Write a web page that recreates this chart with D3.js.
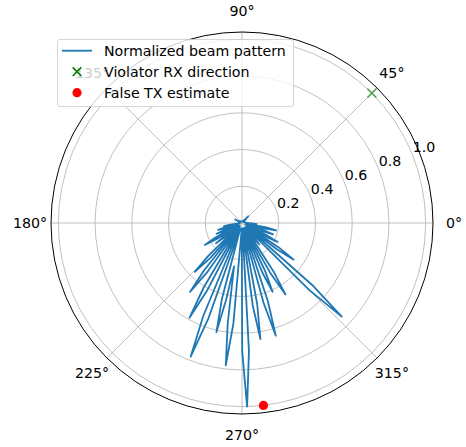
<!DOCTYPE html>
<html>
<head>
<meta charset="utf-8">
<script src="https://cdn.jsdelivr.net/npm/d3@7"></script>
<style>
  html, body { margin: 0; padding: 0; background: #ffffff; }
  svg { display: block; font-family: "DejaVu Sans", sans-serif; }
</style>
</head>
<body>
<svg id="chart" width="466" height="447"></svg>
<script>
// ---------- data ----------
const radialTicks = [0.2, 0.4, 0.6, 0.8, 1.0];
const radialTickLabels = ["0.2", "0.4", "0.6", "0.8", "1.0"];
const angleTicks = [0, 45, 90, 135, 180, 225, 270, 315];
const angleTickLabels = ["0°", "45°", "90°", "135°", "180°", "225°", "270°", "315°"];

// Normalized beam pattern vertices (angle in degrees, normalized magnitude)
const beamTheta = [
  0, 25, 45.5, 47, 48.5, 70, 120, 151.5, 153, 154.5, 175, 186,
  188, 190, 192, 193.2,
  194.5, 196, 197.5, 199.5,
  201.4, 203, 204.6, 206.5,
  208.8, 210.5, 212.2, 214,
  216.5, 218, 219.5, 222,
  224.3, 226, 227.7, 229.5,
  231.3, 233, 234.7, 237,
  239.3, 241, 242.7, 245,
  247.4, 249, 250.6, 253,
  255.2, 256.8, 258.3, 259.6,
  261.9, 263.5, 265.1, 267.5,
  270.1, 271.6, 273.1, 275.5,
  277.4, 279, 280.6, 283,
  285.1, 286.7, 288.3, 290.5,
  292.3, 294, 295.7, 297.5,
  299.6, 301.3, 303, 305,
  307.5, 309, 310.5, 313,
  315.1, 316.8, 318.5, 320.5,
  323, 324.7, 326.4, 328.5,
  330.4, 332, 333.6, 336,
  338.4, 340, 341.6, 344,
  346.4, 348, 349.6, 352,
  354.8, 356, 357.2, 360
];
const beamR = [
  0.03, 0.01, 0.03, 0.05, 0.03, 0.01, 0.01, 0.025, 0.042, 0.025, 0.01, 0.02,
  0.07, 0.10, 0.07, 0.02,
  0.095, 0.135, 0.095, 0.02,
  0.105, 0.15, 0.105, 0.02,
  0.165, 0.235, 0.165, 0.02,
  0.125, 0.18, 0.125, 0.02,
  0.26, 0.37, 0.26, 0.02,
  0.33, 0.47, 0.33, 0.02,
  0.41, 0.59, 0.41, 0.03,
  0.55, 0.78, 0.55, 0.03,
  0.43, 0.61, 0.43, 0.24,
  0.55, 0.78, 0.55, 0.03,
  0.70, 1.00, 0.70, 0.03,
  0.45, 0.64, 0.45, 0.03,
  0.45, 0.64, 0.45, 0.03,
  0.29, 0.41, 0.29, 0.03,
  0.32, 0.455, 0.32, 0.03,
  0.105, 0.15, 0.105, 0.03,
  0.52, 0.745, 0.52, 0.03,
  0.24, 0.345, 0.24, 0.03,
  0.155, 0.22, 0.155, 0.02,
  0.125, 0.18, 0.125, 0.02,
  0.135, 0.19, 0.135, 0.02,
  0.055, 0.08, 0.055, 0.03
];

const rxDirection = { theta: 45, r: 1.0 };
const txEstimate = { theta: 276.7, r: 1.0 };

const legendLabels = ["Normalized beam pattern", "Violator RX direction", "False TX estimate"];

// ---------- layout ----------
const cx = 242, cy = 223;
const outerR = 191;
const rMax = 1.04;
const fontPx = "14.2px";

const svg = d3.select("#chart");
svg.append("rect").attr("width", 466).attr("height", 447).attr("fill", "#ffffff");

const rScale = d3.scaleLinear().domain([0, rMax]).range([0, outerR]);
const toRad = d => d * Math.PI / 180;
const px = (deg, r) => cx + rScale(r) * Math.cos(toRad(deg));
const py = (deg, r) => cy - rScale(r) * Math.sin(toRad(deg));

const g = svg.append("g");

// grid circles
g.selectAll("circle.grid").data(radialTicks).join("circle")
  .attr("class", "grid")
  .attr("cx", cx).attr("cy", cy)
  .attr("r", d => rScale(d))
  .attr("fill", "none").attr("stroke", "#b0b0b0").attr("stroke-width", 0.8);

// radial grid lines
g.selectAll("line.spoke").data(angleTicks).join("line")
  .attr("class", "spoke")
  .attr("x1", cx).attr("y1", cy)
  .attr("x2", d => px(d, rMax)).attr("y2", d => py(d, rMax))
  .attr("stroke", "#b0b0b0").attr("stroke-width", 0.8);

// radial tick labels at 22.5°
g.selectAll("text.rlab").data(radialTicks).join("text")
  .attr("class", "rlab")
  .attr("x", d => px(22.5, d) + 1)
  .attr("y", d => py(22.5, d) - 0.5)
  .attr("font-size", fontPx)
  .attr("fill", "#000")
  .attr("text-anchor", "start")
  .text((d, i) => radialTickLabels[i]);

// outer spine
g.append("circle").attr("cx", cx).attr("cy", cy).attr("r", outerR)
  .attr("fill", "none").attr("stroke", "#000").attr("stroke-width", 1);

// angle labels
const labelR = outerR + 21;
g.selectAll("text.alab").data(angleTicks).join("text")
  .attr("class", "alab")
  .attr("x", d => cx + labelR * Math.cos(toRad(d)))
  .attr("y", d => cy - labelR * Math.sin(toRad(d)))
  .attr("dy", "0.36em")
  .attr("text-anchor", "middle")
  .attr("font-size", fontPx)
  .attr("fill", "#000")
  .text((d, i) => angleTickLabels[i]);

// beam pattern line
const beamData = beamTheta.map((t, i) => [t, beamR[i]]);
const radialLine = d3.lineRadial()
  .angle(d => Math.PI / 2 - toRad(d[0]))
  .radius(d => rScale(d[1]));
g.append("path")
  .attr("transform", `translate(${cx},${cy})`)
  .attr("d", radialLine(beamData))
  .attr("fill", "none")
  .attr("stroke", "#1f77b4")
  .attr("stroke-width", 1.8)
  .attr("stroke-linejoin", "round");

// X marker helper
function xMarker(sel, x, y, s, color, op) {
  sel.append("path")
    .attr("d", `M${x - s},${y - s}L${x + s},${y + s}M${x - s},${y + s}L${x + s},${y - s}`)
    .attr("stroke", color).attr("stroke-width", 1.6).attr("opacity", op).attr("fill", "none");
}

// violator RX direction
xMarker(g, px(rxDirection.theta, rxDirection.r), py(rxDirection.theta, rxDirection.r), 4.5, "#008000", 0.6);

// false TX estimate
g.append("circle")
  .attr("cx", px(txEstimate.theta, txEstimate.r))
  .attr("cy", py(txEstimate.theta, txEstimate.r))
  .attr("r", 4.6).attr("fill", "#ff0000");

// ---------- legend ----------
const lg = svg.append("g");
lg.append("rect")
  .attr("x", 57.5).attr("y", 39.5).attr("width", 236).attr("height", 67)
  .attr("rx", 2.5).attr("ry", 2.5)
  .attr("fill", "#ffffff").attr("fill-opacity", 0.8)
  .attr("stroke", "#cccccc").attr("stroke-opacity", 0.8).attr("stroke-width", 1);

const rowY = [50.7, 71.7, 92.7];
lg.append("line").attr("x1", 62).attr("x2", 92).attr("y1", rowY[0]).attr("y2", rowY[0])
  .attr("stroke", "#1f77b4").attr("stroke-width", 1.8);
xMarker(lg, 77, rowY[1], 4.3, "#008000", 1);
lg.append("circle").attr("cx", 77).attr("cy", rowY[2]).attr("r", 4.6).attr("fill", "#ff0000");

lg.selectAll("text.leg").data(legendLabels).join("text")
  .attr("class", "leg")
  .attr("x", 104)
  .attr("y", (d, i) => rowY[i])
  .attr("dy", "0.36em")
  .attr("font-size", fontPx)
  .attr("fill", "#000")
  .text(d => d);
</script>
</body>
</html>
